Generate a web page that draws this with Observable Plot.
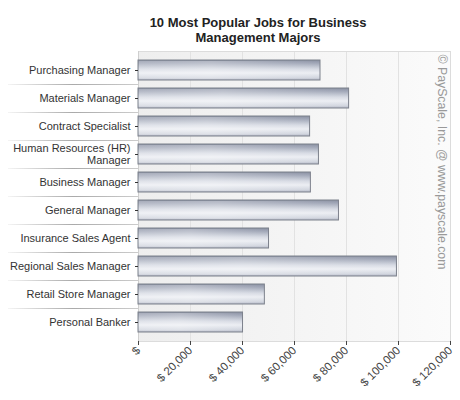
<!DOCTYPE html>
<html>
<head>
<meta charset="utf-8">
<script src="https://cdn.jsdelivr.net/npm/d3@7"></script>
<script src="https://cdn.jsdelivr.net/npm/@observablehq/plot@0.6"></script>
<style>
  html, body { margin: 0; padding: 0; background: #fff; }
  #title { width: 460px; box-sizing: border-box; padding-left: 56px; height: 45px; padding-top: 15px;
    text-align: center; font-family: "Liberation Sans", Arial, sans-serif; font-weight: bold;
    font-size: 13px; line-height: 15px; color: #222; }
</style>
</head>
<body>
<div id="title">10 Most Popular Jobs for Business<br>Management Majors</div>
<div id="chart"></div>
<script>
const jobs = ["Purchasing Manager", "Materials Manager", "Contract Specialist",
  "Human Resources (HR) Manager", "Business Manager", "General Manager",
  "Insurance Sales Agent", "Regional Sales Manager", "Retail Store Manager", "Personal Banker"];
const jobLabels = ["Purchasing Manager", "Materials Manager", "Contract Specialist",
  "Human Resources (HR)\nManager", "Business Manager", "General Manager",
  "Insurance Sales Agent", "Regional Sales Manager", "Retail Store Manager", "Personal Banker"];
const salaries = [70000, 81000, 66000, 69400, 66300, 77100, 50200, 99400, 48600, 40200];
const xTicks = [0, 20000, 40000, 60000, 80000, 100000, 120000];
const watermark = "© PayScale, Inc. @ www.payscale.com";

const data = jobs.map((job, i) => ({job, salary: salaries[i]}));
const labelOf = new Map(jobs.map((j, i) => [j, jobLabels[i]]));

function separators(index, scales, values, dims) {
  const y = scales.y;
  const bw = typeof y.bandwidth === "function" ? y.bandwidth() : y.bandwidth;
  const g = d3.create("svg:g");
  for (let i = 0; i < jobs.length - 1; i++) {
    const yy = Math.round((y(jobs[i]) + y(jobs[i + 1]) + bw) / 2) + 0.5;
    g.append("line").attr("x1", 8).attr("x2", dims.marginLeft).attr("y1", yy).attr("y2", yy)
      .attr("stroke", "url(#sepGrad)").attr("stroke-width", 1);
  }
  return g.node();
}

const chart = Plot.plot({
  width: 460,
  height: 355,
  marginTop: 6,
  marginBottom: 59,
  marginLeft: 138,
  marginRight: 10,
  style: {fontFamily: "'Liberation Sans', Arial, sans-serif", fontSize: "11px", background: "white"},
  x: {domain: [0, 120000]},
  y: {domain: jobs, paddingInner: 0.3, paddingOuter: 0.25},
  marks: [
    Plot.frame({fill: "url(#bgGrad)", stroke: "none"}),
    Plot.gridX({ticks: xTicks, stroke: "#e2e2e2", strokeOpacity: 1}),
    Plot.frame({stroke: "#dcdcdc"}),
    Plot.ruleX([0], {stroke: "#cfcfcf"}),
    separators,
    Plot.barX(data, {x: "salary", y: "job", fill: "url(#barGrad)", stroke: "#7d818c", strokeWidth: 1}),
    Plot.barX(data, {x: "salary", y: "job", fill: "url(#barHi)", inset: 1}),
    Plot.text([watermark], {frameAnchor: "top-right", rotate: 90, textAnchor: "start", lineAnchor: "middle",
      dx: -9, dy: 3, fill: "#999", fontSize: 12.3}),
    Plot.axisY({tickSize: 3, tickPadding: 5, color: "#333", fontSize: 11, lineHeight: 1.1,
      tickFormat: d => labelOf.get(d), label: null}),
    Plot.axisX({ticks: xTicks, tickSize: 4, tickPadding: 3, tickRotate: -45, color: "#444", fontSize: 11.5,
      tickFormat: v => v === 0 ? "$" : "$ " + d3.format(",")(v), label: null})
  ]
});

const defs = d3.select(chart).insert("defs", ":first-child");
const bg = defs.append("linearGradient").attr("id", "bgGrad").attr("x1", 0).attr("x2", 1).attr("y1", 0).attr("y2", 0);
bg.append("stop").attr("offset", "0%").attr("stop-color", "#eeeeee");
bg.append("stop").attr("offset", "100%").attr("stop-color", "#fbfbfb");
const bar = defs.append("linearGradient").attr("id", "barGrad").attr("x1", 0).attr("x2", 0).attr("y1", 0).attr("y2", 1);
[["0%", "#8990a2"], ["18%", "#a5abbb"], ["45%", "#d6dae3"], ["65%", "#eceef3"], ["88%", "#d3d7e0"], ["100%", "#b4b9c6"]]
  .forEach(([o, c]) => bar.append("stop").attr("offset", o).attr("stop-color", c));
const hi = defs.append("linearGradient").attr("id", "barHi").attr("x1", 0).attr("x2", 1).attr("y1", 0).attr("y2", 0);
[["0%", 0.2], ["40%", 0.3], ["100%", 0]]
  .forEach(([o, a]) => hi.append("stop").attr("offset", o).attr("stop-color", "#ffffff").attr("stop-opacity", a));
const sep = defs.append("linearGradient").attr("id", "sepGrad").attr("gradientUnits", "userSpaceOnUse")
  .attr("x1", 8).attr("x2", 138).attr("y1", 0).attr("y2", 0);
[["0%", "#f4f4f4"], ["50%", "#aaaaaa"], ["100%", "#cccccc"]]
  .forEach(([o, c]) => sep.append("stop").attr("offset", o).attr("stop-color", c));

document.getElementById("chart").appendChild(chart);
</script>
</body>
</html>
